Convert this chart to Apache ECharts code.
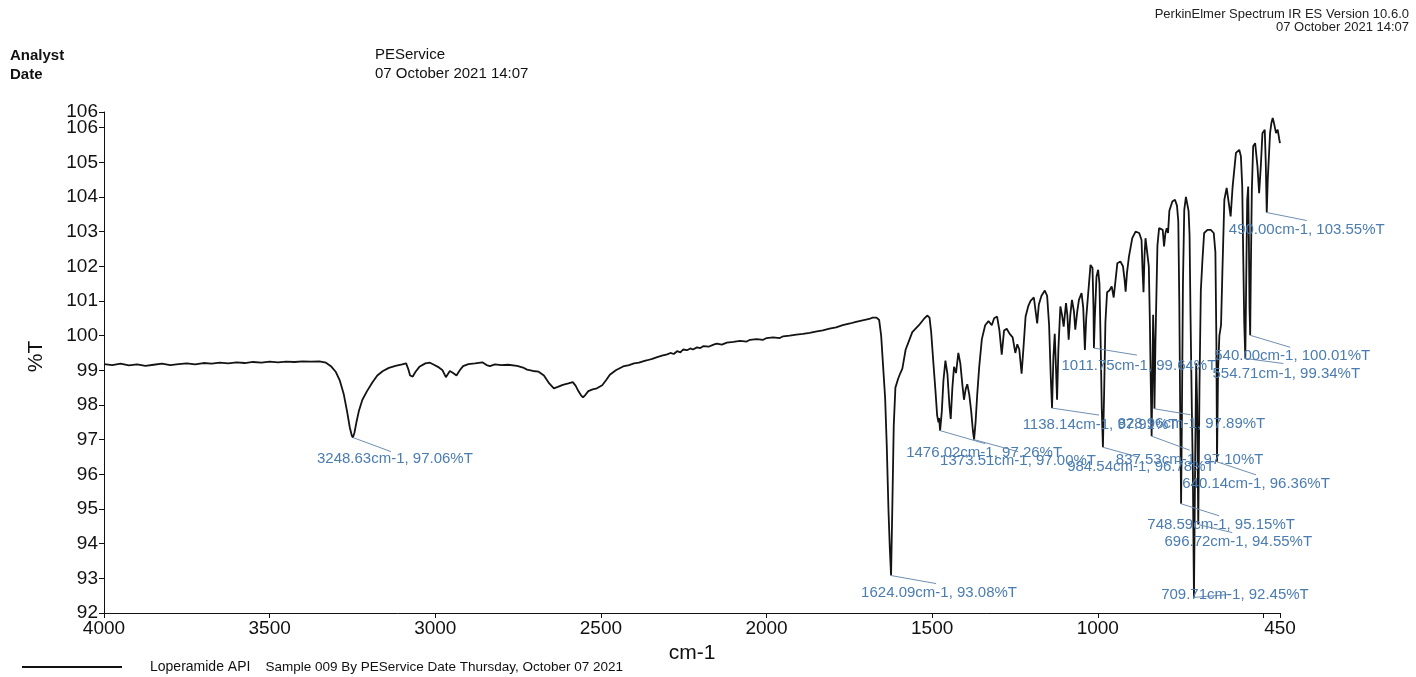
<!DOCTYPE html>
<html>
<head>
<meta charset="utf-8">
<title>Loperamide API - IR spectrum</title>
<style>
  html, body { margin: 0; padding: 0; background: #ffffff; }
  #chart { width: 1416px; height: 677px; }
</style>
<script src="https://cdn.jsdelivr.net/npm/echarts@6/dist/echarts.min.js"></script>
</head>
<body>
<div id="chart"></div>
<script>
// ---- spectrum trace: wavenumber (cm-1) and transmittance (%T) ----
const wavenumbers = [
  4000, 3975, 3950, 3925, 3900, 3875, 3850, 3825, 3800, 3775, 3750, 3725, 3700, 3675, 3650, 3625,
  3600, 3575, 3550, 3525, 3500, 3475, 3450, 3425, 3400, 3375, 3350, 3330, 3315, 3300, 3288, 3276,
  3266, 3258, 3252, 3248.63, 3244, 3238, 3230, 3220, 3206, 3190, 3175, 3158, 3140, 3120, 3100, 3088,
  3082, 3076, 3068, 3060, 3048, 3030, 3016, 3004, 2992, 2978, 2968, 2962, 2956, 2946, 2936, 2926,
  2916, 2900, 2880, 2858, 2845, 2835, 2820, 2800, 2780, 2753, 2735, 2723, 2705, 2688, 2672, 2656,
  2642, 2630, 2615, 2598, 2585, 2576, 2568, 2560, 2554, 2546, 2538, 2525, 2512, 2496, 2484, 2473,
  2455, 2433, 2415, 2400, 2385, 2373, 2360, 2345, 2330, 2313, 2300, 2290, 2280, 2270, 2260, 2252,
  2240, 2230, 2222, 2210, 2200, 2190, 2175, 2160, 2150, 2135, 2120, 2100, 2080, 2060, 2050, 2030,
  2010, 2000, 1980, 1960, 1950, 1930, 1910, 1890, 1870, 1848, 1830, 1810, 1790, 1770, 1748, 1730,
  1710, 1690, 1680, 1668, 1660, 1654, 1648, 1642, 1637, 1632, 1628, 1624.09, 1620, 1616, 1611, 1603,
  1597, 1590, 1580, 1570, 1560, 1540, 1525, 1515, 1508, 1503, 1497, 1490, 1485, 1481, 1479, 1476.02,
  1471, 1466, 1460, 1454, 1448, 1444, 1439, 1434, 1428, 1421, 1415, 1409, 1404, 1399, 1394, 1388,
  1382, 1377, 1373.51, 1369, 1364, 1358, 1350, 1340, 1330, 1320, 1313, 1304, 1297, 1290, 1283, 1275,
  1266, 1257, 1249, 1243, 1237, 1230, 1224, 1218, 1210, 1203, 1193, 1187, 1183, 1178, 1170, 1160,
  1153, 1147, 1142, 1138.14, 1134, 1130, 1126, 1123, 1119, 1113, 1108, 1103, 1096, 1092, 1088, 1083,
  1078, 1072, 1068, 1062, 1057, 1049, 1044, 1039, 1035, 1030, 1022, 1016, 1013, 1011.75, 1009, 1004,
  999, 995, 991, 988, 984.54, 981, 977, 972, 965, 958, 952, 947, 941, 932, 924, 919,
  916, 912, 906, 896, 886, 875, 868, 865, 862, 859, 856, 850, 846, 843, 840, 837.53,
  835, 833, 831, 828.96, 826, 823, 820, 815, 809, 804, 800, 796, 792, 788, 784, 775,
  767, 761, 757, 754, 751, 748.59, 746, 743, 739, 734, 729, 726, 723, 720, 716, 713,
  709.71, 706, 703, 700, 696.72, 693, 689, 684, 679, 669, 659, 650, 645, 642, 640.14, 637,
  633, 628, 624, 618, 611, 605, 599, 593, 583, 573, 568, 564, 561, 558, 554.71, 552,
  549, 546, 544, 542, 540, 538, 535, 531, 525, 518, 513, 508, 503, 496, 493, 490,
  487, 485, 480, 476, 472, 467, 462, 457, 452, 450
];
const transmittance = [
  99.18, 99.15, 99.19, 99.14, 99.17, 99.13, 99.16, 99.19, 99.15, 99.18, 99.20, 99.17, 99.21, 99.19, 99.22, 99.20,
  99.23, 99.21, 99.24, 99.22, 99.25, 99.23, 99.25, 99.24, 99.26, 99.25, 99.26, 99.22, 99.12, 98.95, 98.70, 98.30,
  97.80, 97.35, 97.12, 97.06, 97.20, 97.50, 97.85, 98.15, 98.40, 98.65, 98.85, 98.98, 99.07, 99.13, 99.17, 99.20,
  99.05, 98.85, 98.82, 98.95, 99.10, 99.20, 99.22, 99.16, 99.10, 99.00, 98.80, 98.85, 98.98, 98.92, 98.85, 99.00,
  99.12, 99.18, 99.20, 99.23, 99.15, 99.12, 99.17, 99.15, 99.16, 99.13, 99.08, 99.02, 98.98, 98.96, 98.85, 98.62,
  98.48, 98.52, 98.58, 98.62, 98.66, 98.55, 98.40, 98.28, 98.22, 98.30, 98.40, 98.45, 98.48, 98.57, 98.72, 98.87,
  99.00, 99.11, 99.15, 99.20, 99.22, 99.26, 99.29, 99.33, 99.38, 99.43, 99.46, 99.50, 99.47, 99.55, 99.52, 99.60,
  99.58, 99.63, 99.60, 99.66, 99.64, 99.70, 99.68, 99.74, 99.77, 99.74, 99.80, 99.82, 99.85, 99.83, 99.88, 99.90,
  99.88, 99.93, 99.95, 99.93, 99.98, 100.00, 100.03, 100.05, 100.08, 100.12, 100.15, 100.20, 100.24, 100.30, 100.35, 100.40,
  100.44, 100.48, 100.52, 100.52, 100.45, 100.00, 99.10, 98.20, 96.80, 95.00, 93.90, 93.08, 95.20, 97.40, 98.50, 98.75,
  98.90, 99.05, 99.60, 99.85, 100.10, 100.30, 100.48, 100.58, 100.52, 100.10, 99.30, 98.40, 97.70, 97.50, 97.62, 97.26,
  97.80, 98.70, 99.28, 98.90, 98.00, 97.60, 98.50, 99.10, 98.92, 99.50, 99.20, 98.60, 98.15, 98.45, 98.60, 98.30,
  97.80, 97.25, 97.00, 97.50, 98.30, 99.10, 99.90, 100.30, 100.42, 100.30, 100.50, 100.55, 100.15, 99.45, 100.15, 100.20,
  100.05, 99.95, 99.50, 99.75, 99.60, 98.90, 99.70, 100.55, 100.85, 101.00, 101.10, 101.10, 100.35, 100.90, 101.15, 101.30,
  101.15, 100.30, 98.80, 97.91, 99.40, 100.05, 99.00, 98.15, 99.60, 100.84, 100.60, 100.26, 100.94, 100.60, 99.88, 100.60,
  101.03, 100.70, 100.17, 100.70, 101.03, 101.23, 100.80, 99.59, 100.50, 101.10, 102.04, 101.95, 100.80, 99.64, 100.50, 101.70,
  101.90, 101.50, 99.60, 97.90, 96.78, 98.30, 100.40, 101.25, 101.30, 101.42, 101.10, 101.05, 102.09, 102.14, 102.00, 101.60,
  101.27, 101.80, 102.28, 102.81, 103.00, 102.96, 102.76, 101.90, 101.25, 102.30, 102.81, 102.76, 102.00, 100.50, 98.60, 97.10,
  98.90, 100.60, 99.70, 97.89, 99.80, 101.20, 102.60, 103.10, 103.12, 103.05, 102.57, 102.95, 103.10, 102.96, 103.60, 103.87,
  103.92, 103.75, 103.30, 101.00, 97.50, 95.15, 97.80, 101.50, 103.63, 104.00, 104.00, 103.60, 102.90, 100.50, 97.80, 96.00,
  92.45, 96.50, 99.20, 98.00, 94.55, 98.60, 101.30, 102.20, 102.96, 103.05, 103.05, 102.96, 102.40, 99.80, 96.36, 99.00,
  100.00, 100.30, 101.80, 103.92, 104.26, 104.21, 103.44, 104.30, 105.27, 105.36, 105.17, 104.30, 102.30, 100.40, 99.34, 101.60,
  103.90, 104.30, 102.80, 100.80, 100.01, 101.90, 104.20, 105.46, 105.55, 104.88, 104.11, 104.88, 105.84, 105.94, 105.00, 103.55,
  104.50, 104.88, 105.84, 106.13, 106.28, 106.08, 105.84, 105.94, 105.65, 105.55
];

// ---- labelled peaks ----
const peakWavenumbers   = [3248.63, 1624.09, 1476.02, 1373.51, 1138.14, 1011.75, 984.54, 837.53,
                           828.96, 748.59, 709.71, 696.72, 640.14, 554.71, 540.00, 490.00];
const peakTransmittance = [97.06, 93.08, 97.26, 97.00, 97.91, 99.64, 96.78, 97.10,
                           97.89, 95.15, 92.45, 94.55, 96.36, 99.34, 100.01, 103.55];

// ---- axis ticks / labels ----
const xTickValues  = [4000, 3500, 3000, 2500, 2000, 1500, 1000, 500, 450];
const xLabelValues = [4000, 3500, 3000, 2500, 2000, 1500, 1000, 450];
const yMin = 92;
const yMax = 106.45;
const yTickValues  = [92, 93, 94, 95, 96, 97, 98, 99, 100, 101, 102, 103, 104, 105, 106];
const yEndValues   = [yMax];

// leader line end [dx, dy] and text anchor [dx, dy] (pixels, relative to the peak)
const labelLayout = [
  [38, 14, 42, 14], [45, 8, 48, 10], [45, 13, 44, 15], [44, 12, 44, 14],
  [47, 7, 48, 9],   [43, 7, 45, 10], [36, 10, 38, 12], [38, 14, 38, 16],
  [36, 6, 37, 8],   [38, 12, 40, 14], [37, -3, 41, -10], [34, 8, 40, 10],
  [39, 13, 39, 15], [38, 5, 41, 8],  [40, 12, 42, 13], [40, 8, 40, 10]
];

const FONT = '"Liberation Sans", Arial, Helvetica, sans-serif';
const sampleNote = 'Sample 009 By PEService Date Thursday, October 07 2021';
const yLabelFormat = v => String(Math.floor(v + 1e-9));

const chart = echarts.init(document.getElementById('chart'), null, { renderer: 'canvas' });

const yAxisBase = {
  type: 'value',
  min: yMin,
  max: yMax,
  position: 'left',
  splitLine: { show: false }
};

chart.setOption({
  animation: false,
  backgroundColor: '#ffffff',
  textStyle: { fontFamily: FONT },
  grid: { left: 104, right: 136, top: 112, bottom: 64, outerBoundsMode: 'none' },
  graphic: [
    { type: 'text', left: 10, top: 48, style: { text: 'Analyst', font: 'bold 15px ' + FONT, fill: '#111' } },
    { type: 'text', left: 10, top: 67, style: { text: 'Date', font: 'bold 15px ' + FONT, fill: '#111' } },
    { type: 'text', left: 375, top: 47, style: { text: 'PEService', font: '15px ' + FONT, fill: '#111' } },
    { type: 'text', left: 375, top: 66, style: { text: '07 October 2021 14:07', font: '15px ' + FONT, fill: '#111' } },
    { type: 'text', right: 7, top: 8, style: { text: 'PerkinElmer Spectrum IR ES Version 10.6.0', font: '13px ' + FONT, fill: '#222', align: 'right' } },
    { type: 'text', right: 7, top: 21, style: { text: '07 October 2021 14:07', font: '13px ' + FONT, fill: '#222', align: 'right' } }
  ],
  legend: {
    left: 17,
    top: 655,
    itemWidth: 100,
    itemHeight: 2,
    icon: 'rect',
    selectedMode: false,
    formatter: name => '{a|' + name + '}{b|' + sampleNote + '}',
    textStyle: {
      color: '#111',
      fontSize: 14,
      rich: {
        a: { fontSize: 14, color: '#111', padding: [0, 0, 0, 23] },
        b: { fontSize: 13.5, color: '#111', padding: [0, 0, 0, 15] }
      }
    },
    data: ['Loperamide API']
  },
  xAxis: {
    type: 'value',
    inverse: true,
    min: 450,
    max: 4000,
    name: 'cm-1',
    nameLocation: 'middle',
    nameGap: 26,
    nameTextStyle: { fontSize: 21, color: '#111', fontFamily: FONT },
    axisLine: { show: true, onZero: false, lineStyle: { color: '#111', width: 1 } },
    axisTick: { show: true, length: 5, customValues: xTickValues, lineStyle: { color: '#111' } },
    axisLabel: {
      customValues: xLabelValues,
      margin: 6,
      fontSize: 19,
      color: '#111',
      fontFamily: FONT,
      formatter: v => String(v)
    },
    splitLine: { show: false }
  },
  yAxis: [
    Object.assign({}, yAxisBase, {
      name: '%T',
      nameLocation: 'middle',
      nameGap: 57,
      nameTextStyle: { fontSize: 21, color: '#111', fontFamily: FONT, padding: [0, 0, 0, 12] },
      axisLine: { show: true, onZero: false, lineStyle: { color: '#111', width: 1 } },
      axisTick: { show: true, length: 5, customValues: yTickValues, lineStyle: { color: '#111' } },
      axisLabel: {
        customValues: yTickValues,
        margin: 6,
        fontSize: 19,
        color: '#111',
        fontFamily: FONT,
        formatter: yLabelFormat
      }
    }),
    // end-of-scale label at the top of the %T axis
    Object.assign({}, yAxisBase, {
      axisLine: { show: false },
      axisTick: { show: true, length: 5, customValues: yEndValues, lineStyle: { color: '#111' } },
      axisLabel: {
        customValues: yEndValues,
        margin: 6,
        fontSize: 19,
        color: '#111',
        fontFamily: FONT,
        formatter: yLabelFormat
      }
    })
  ],
  series: [
    {
      name: 'Loperamide API',
      type: 'line',
      data: wavenumbers.map((w, i) => [w, transmittance[i]]),
      showSymbol: false,
      symbol: 'none',
      color: '#111',
      lineStyle: { color: '#131313', width: 1.8 },
      silent: true,
      z: 2
    },
    {
      name: 'peak labels',
      type: 'custom',
      coordinateSystem: 'cartesian2d',
      silent: true,
      z: 3,
      data: peakWavenumbers.map((w, i) => [w, peakTransmittance[i], i]),
      renderItem: (params, api) => {
        const w = api.value(0);
        const t = api.value(1);
        const i = api.value(2);
        const p = api.coord([w, t]);
        const o = labelLayout[i];
        return {
          type: 'group',
          children: [
            {
              type: 'line',
              shape: { x1: p[0], y1: p[1], x2: p[0] + o[0], y2: p[1] + o[1] },
              style: { stroke: '#6f8fb2', lineWidth: 1 }
            },
            {
              type: 'text',
              x: p[0] + o[2],
              y: p[1] + o[3],
              style: {
                text: w.toFixed(2) + 'cm-1, ' + t.toFixed(2) + '%T',
                font: '15px ' + FONT,
                fill: '#4a7cb0',
                align: 'center',
                verticalAlign: 'top'
              }
            }
          ]
        };
      }
    }
  ]
});
</script>
</body>
</html>
